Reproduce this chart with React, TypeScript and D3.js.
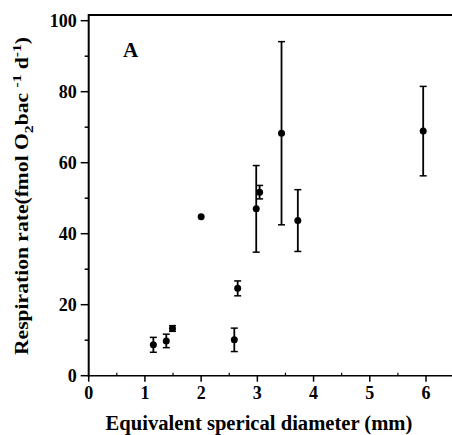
import React, { useEffect, useRef } from "react";
import * as d3 from "d3";

// diameter (mm), respiration rate, error (+/-)
const diameters = [1.15, 1.38, 1.49, 2.0, 2.59, 2.65, 2.98, 3.04, 3.43, 3.72, 5.95];
const rates = [8.7, 9.8, 13.3, 44.8, 10.1, 24.6, 47.0, 51.7, 68.3, 43.7, 68.9];
const errors = [2.1, 1.9, 0.8, 0, 3.3, 2.1, 12.2, 1.9, 25.8, 8.7, 12.6];

const xTicks = [0, 1, 2, 3, 4, 5, 6];
const yTicks = [0, 20, 40, 60, 80, 100];

const App = () => {
  const svgRef = useRef<SVGSVGElement>(null);

  useEffect(() => {
    const width = 452, height = 435;
    const font = "'Liberation Serif', 'Times New Roman', serif";

    const x = d3.scaleLinear().domain([0, 6]).range([88.7, 426]);
    const y = d3.scaleLinear().domain([0, 100]).range([375.7, 20.7]);

    const svg = d3.select(svgRef.current)
      .attr("width", width)
      .attr("height", height);
    svg.selectAll("*").remove();

    // frame: top line, left axis, bottom axis
    svg.append("line")
      .attr("x1", x(0)).attr("x2", width)
      .attr("y1", 15).attr("y2", 15)
      .attr("stroke", "#000").attr("stroke-width", 2);

    svg.append("line")
      .attr("x1", x(0)).attr("x2", x(0))
      .attr("y1", 14).attr("y2", y(0) + 1)
      .attr("stroke", "#000").attr("stroke-width", 2);

    svg.append("line")
      .attr("x1", x(0)).attr("x2", width)
      .attr("y1", y(0)).attr("y2", y(0))
      .attr("stroke", "#000").attr("stroke-width", 1.6);

    // y ticks every 10, outward
    svg.append("g").selectAll("line")
      .data(d3.range(0, 101, 10))
      .enter().append("line")
      .attr("x1", d => x(0) - (d % 20 === 0 ? 8 : 4)).attr("x2", x(0))
      .attr("y1", d => y(d)).attr("y2", d => y(d))
      .attr("stroke", "#000").attr("stroke-width", 1.5);

    svg.append("g").selectAll("text")
      .data(yTicks)
      .enter().append("text")
      .attr("x", x(0) - 12)
      .attr("y", d => y(d) + 6)
      .attr("text-anchor", "end")
      .attr("font-family", font)
      .attr("font-weight", "bold")
      .attr("font-size", 18)
      .text(d => d);

    // x ticks: major outward, minor inward
    svg.append("g").selectAll("line")
      .data(xTicks)
      .enter().append("line")
      .attr("x1", d => x(d)).attr("x2", d => x(d))
      .attr("y1", y(0)).attr("y2", y(0) + 6)
      .attr("stroke", "#000").attr("stroke-width", 1.5);

    svg.append("g").selectAll("line")
      .data(d3.range(0.5, 6.5, 1))
      .enter().append("line")
      .attr("x1", d => x(d)).attr("x2", d => x(d))
      .attr("y1", y(0)).attr("y2", y(0) - 3)
      .attr("stroke", "#000").attr("stroke-width", 1.2);

    svg.append("g").selectAll("text")
      .data(xTicks)
      .enter().append("text")
      .attr("x", d => x(d))
      .attr("y", 399)
      .attr("text-anchor", "middle")
      .attr("font-family", font)
      .attr("font-weight", "bold")
      .attr("font-size", 18)
      .text(d => d);

    // axis titles
    svg.append("text")
      .attr("transform", "translate(259,430) scale(1.03,1)")
      .attr("text-anchor", "middle")
      .attr("font-family", font)
      .attr("font-weight", "bold")
      .attr("font-size", 20)
      .text("Equivalent sperical diameter (mm)");

    const yt = svg.append("text")
      .attr("transform", "translate(28,196) rotate(-90) scale(1.2,1)")
      .attr("text-anchor", "middle")
      .attr("font-family", font)
      .attr("font-weight", "bold")
      .attr("font-size", 18);
    yt.append("tspan").text("Respiration rate(fmol O");
    yt.append("tspan").attr("dy", 5).attr("font-size", 13).text("2");
    yt.append("tspan").attr("dy", -5).text("bac ");
    yt.append("tspan").attr("dy", -7).attr("font-size", 13).text("-1");
    yt.append("tspan").attr("dy", 7).text(" d");
    yt.append("tspan").attr("dy", -7).attr("font-size", 13).text("-1");
    yt.append("tspan").attr("dy", 7).text(")");

    // panel label
    svg.append("text")
      .attr("x", 123)
      .attr("y", 56.5)
      .attr("font-family", font)
      .attr("font-weight", "bold")
      .attr("font-size", 21)
      .text("A");

    const pts = diameters.map((d, i) => ({ d, r: rates[i], e: errors[i] }));

    // error bars
    const eb = svg.append("g").attr("stroke", "#000").attr("stroke-width", 1.8);
    pts.filter(p => p.e > 0).forEach(p => {
      eb.append("line")
        .attr("x1", x(p.d)).attr("x2", x(p.d))
        .attr("y1", y(p.r + p.e)).attr("y2", y(p.r - p.e));
      [p.r + p.e, p.r - p.e].forEach(v => {
        eb.append("line")
          .attr("x1", x(p.d) - 3.5).attr("x2", x(p.d) + 3.5)
          .attr("y1", y(v)).attr("y2", y(v))
          .attr("stroke-width", 1.5);
      });
    });

    svg.append("g").selectAll("circle")
      .data(pts)
      .enter().append("circle")
      .attr("cx", p => x(p.d))
      .attr("cy", p => y(p.r))
      .attr("r", 3.5)
      .attr("fill", "#000");
  }, []);

  return (
    <svg ref={svgRef} style={{ position: "absolute", left: 0, top: 0, background: "#fff" }}></svg>
  );
};

export default App;
